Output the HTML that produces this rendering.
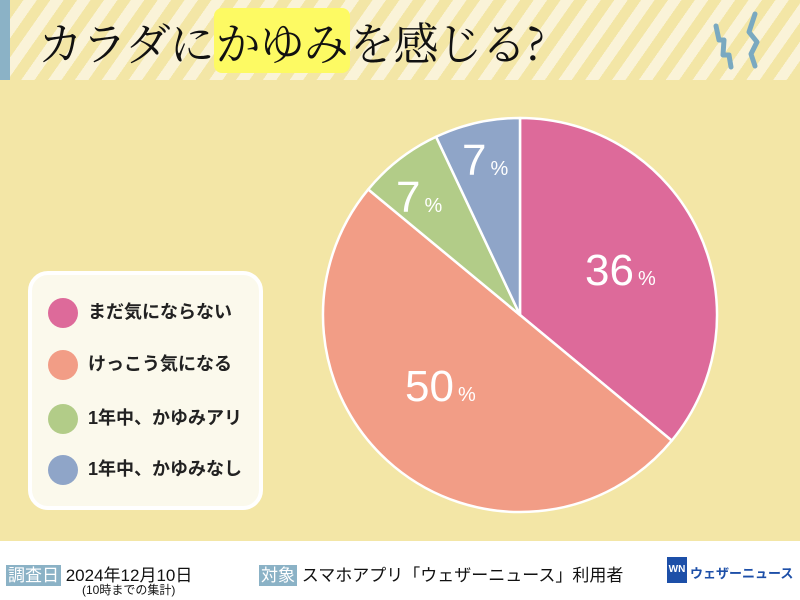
<!DOCTYPE html>
<html><head><meta charset="utf-8"><style>
body{margin:0;width:800px;height:600px;overflow:hidden;background:#fff;font-family:"Liberation Sans","Noto Sans CJK JP",sans-serif;}
.main{position:absolute;left:0;top:0;width:800px;height:541px;background:#f3e6a6;}
.hdr{position:absolute;left:0;top:0;width:800px;height:80px;background:repeating-linear-gradient(-55deg,#f3e6a6 0 11px,#faf3d8 11px 22px);}
.bar{position:absolute;left:0;top:0;width:10px;height:80px;background:#8bb2c6;}
.title{position:absolute;left:38px;top:15px;font-family:"Noto Serif CJK SC","Liberation Serif",serif;font-size:45px;color:#111;white-space:nowrap;line-height:52px;letter-spacing:-1px;}
.hl{background:#fdfa63;border-radius:8px;padding:0 2px;}
.legend{position:absolute;left:28px;top:271px;width:227px;height:231px;border:4px solid #fff;border-radius:20px;background:#fbf9ec;}
.item{position:absolute;left:16px;font-weight:bold;font-size:18px;color:#222;white-space:nowrap;line-height:30px;}
.item i{display:inline-block;width:30px;height:30px;border-radius:50%;vertical-align:middle;margin-right:10px;}
.ft{position:absolute;font-size:17px;color:#111;white-space:nowrap;}
.tag{background:#8bb2c6;color:#fff;padding:1px 2px;}
</style></head><body>
<div class="main"></div>
<div class="hdr"></div><div class="bar"></div>
<div class="title">カラダに<span class="hl">かゆみ</span>を感じる?</div>
<svg style="position:absolute;left:700px;top:10px" width="80" height="60"><g fill="none" stroke="#7aa9c0" stroke-width="5" stroke-linecap="round" stroke-linejoin="round"><path d="M16 16 L19 30 L24 30 L23 45 L29 45 L31 57"/><path d="M55 4 L49 22 L57 32 L51 44 L55 56"/></g></svg>
<svg style="position:absolute;left:0;top:0" width="800" height="541">
<g stroke="#fff" stroke-width="2.5" stroke-linejoin="round">
<path d="M520 315 L520 118 A197 197 0 0 1 671.8 440.6Z" fill="#dd6a9a"/>
<path d="M520 315 L671.8 440.6 A197 197 0 0 1 368.2 189.4Z" fill="#f29d86"/>
<path d="M520 315 L368.2 189.4 A197 197 0 0 1 436.1 136.8Z" fill="#b2cc88"/>
<path d="M520 315 L436.1 136.8 A197 197 0 0 1 520 118Z" fill="#8fa5c8"/>
</g>
<g fill="#fff" font-family="Liberation Sans, sans-serif">
<text x="585" y="285" font-size="44">36<tspan font-size="20" dx="4">%</tspan></text>
<text x="405" y="401" font-size="44">50<tspan font-size="20" dx="4">%</tspan></text>
<text x="396" y="212" font-size="44">7<tspan font-size="20" dx="4">%</tspan></text>
<text x="462" y="175" font-size="44">7<tspan font-size="20" dx="4">%</tspan></text>
</g></svg>
<div class="legend">
<div class="item" style="top:22px"><i style="background:#dd6a9a"></i>まだ気にならない</div>
<div class="item" style="top:74px"><i style="background:#f29d86"></i>けっこう気になる</div>
<div class="item" style="top:128px"><i style="background:#b2cc88"></i>1年中、かゆみアリ</div>
<div class="item" style="top:179px"><i style="background:#8fa5c8"></i>1年中、かゆみなし</div>
</div>
<div class="ft" style="left:6px;top:561px"><span class="tag">調査日</span> 2024年12月10日</div>
<div class="ft" style="left:82px;top:581px;font-size:12px">(10時までの集計)</div>
<div class="ft" style="left:259px;top:561px"><span class="tag">対象</span> スマホアプリ「ウェザーニュース」利用者</div>
<div style="position:absolute;left:667px;top:557px;width:20px;height:26px;background:#1d4fa8;color:#fff;font-size:10px;font-weight:bold;line-height:26px;text-align:center">WN</div>
<div class="ft" style="left:690px;top:563px;font-size:13px;font-weight:bold;color:#1d4fa8">ウェザーニュース</div>
</body></html>
